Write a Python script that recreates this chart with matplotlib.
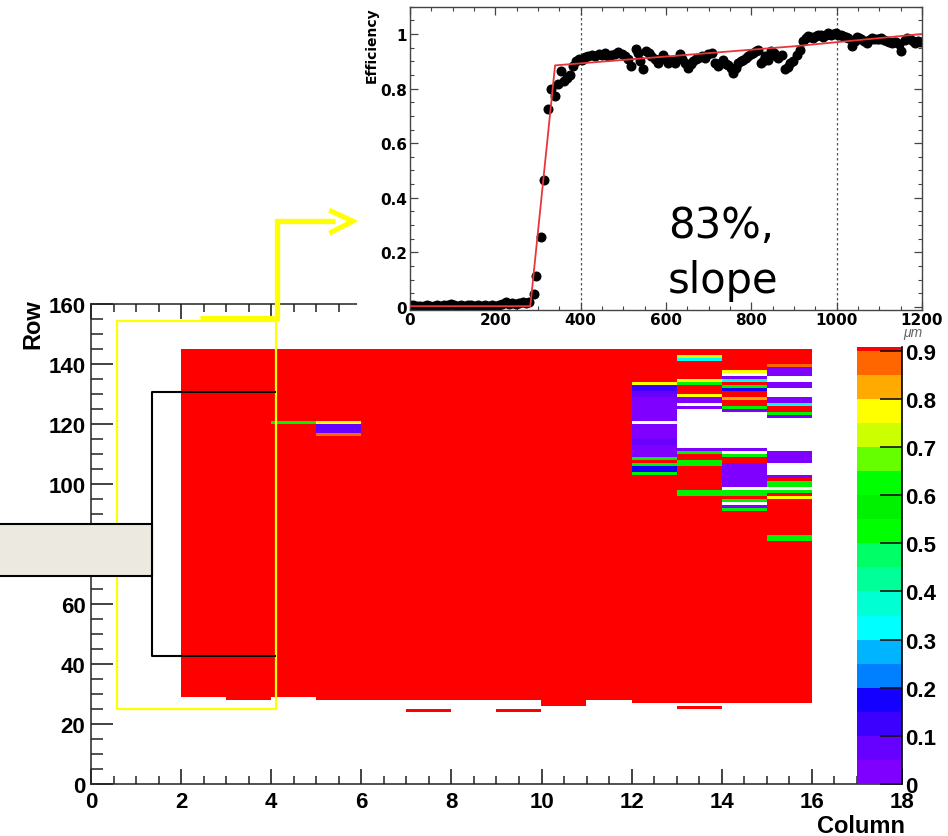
import numpy as np
import matplotlib
matplotlib.use('Agg')
import matplotlib.pyplot as plt
from matplotlib.colors import ListedColormap, BoundaryNorm
from matplotlib.patches import Rectangle
from matplotlib.ticker import MultipleLocator, FuncFormatter

plt.rcParams['font.family'] = ['Liberation Sans', 'DejaVu Sans']
plt.rcParams['font.weight'] = 'bold'
plt.rcParams['axes.labelweight'] = 'bold'

# ---- efficiency map (column x row), values are hit efficiency ----
N_COLS = 18
N_ROWS = 160
RED = 0.95
V0, V1, V2, BLUE = 0.03, 0.08, 0.12, 0.17
CYAN, GREEN, LIME, YELLOW = 0.32, 0.55, 0.72, 0.77
ORANGE, DKORANGE = 0.83, 0.87
EMPTY = np.nan

# columns that are fully efficient, with the first filled row of each
red_cols = [2, 3, 4, 5, 6, 7, 8, 9, 10, 11, 12, 13, 14, 15]
red_bottom = [29, 28, 29, 28, 28, 28, 28, 28, 26, 28, 27, 27, 27, 27]
red_top = 145

# (first row, last row, value) strips per column
strips_c4 = [(120, 120, GREEN)]
strips_c5 = [(120, 120, YELLOW), (117, 119, V1), (116, 116, DKORANGE)]
strips_c7 = [(24, 24, RED)]
strips_c9 = [(24, 24, RED)]
strips_c12 = [(133, 133, YELLOW), (131, 132, V2), (129, 130, V1), (121, 128, V0),
              (120, 120, EMPTY), (115, 119, V0), (113, 114, V1), (109, 112, V0),
              (108, 108, GREEN), (107, 107, RED), (106, 106, GREEN),
              (104, 105, BLUE), (103, 103, GREEN)]
strips_c13 = [(142, 142, LIME), (141, 141, CYAN), (134, 134, YELLOW), (133, 133, GREEN),
              (129, 129, YELLOW), (127, 128, V0), (126, 126, EMPTY), (125, 125, V0),
              (112, 124, EMPTY), (111, 111, V0), (110, 110, GREEN), (106, 107, GREEN),
              (96, 97, GREEN), (25, 25, RED)]
strips_c14 = [(137, 137, YELLOW), (136, 136, EMPTY), (135, 135, V0), (134, 134, CYAN),
              (132, 132, GREEN), (131, 131, BLUE), (128, 128, ORANGE), (125, 125, GREEN),
              (124, 124, V0), (112, 123, EMPTY), (111, 111, V0), (110, 110, EMPTY),
              (109, 109, GREEN), (99, 106, V0), (98, 98, EMPTY), (96, 97, GREEN),
              (94, 94, GREEN), (93, 93, EMPTY), (92, 92, V0), (91, 91, GREEN)]
strips_c15 = [(139, 139, DKORANGE), (136, 138, V0), (134, 135, EMPTY), (132, 133, V0),
              (129, 131, EMPTY), (127, 128, V0), (126, 126, CYAN), (123, 123, GREEN),
              (122, 122, V0), (111, 121, EMPTY), (107, 110, V0), (103, 106, EMPTY),
              (102, 102, V0), (99, 100, GREEN), (98, 98, EMPTY), (97, 97, GREEN),
              (95, 95, YELLOW), (81, 82, GREEN)]
col_strips = {4: strips_c4, 5: strips_c5, 7: strips_c7, 9: strips_c9,
              12: strips_c12, 13: strips_c13, 14: strips_c14, 15: strips_c15}

# ROOT-like palette, one colour per 0.05 step, red above 0.9
palette = ['#7f00ff', '#6600ff', '#3c00ff', '#1400ff', '#0080ff', '#00b4ff',
           '#00ffff', '#00ffd2', '#00ff99', '#00ff66', '#00ff00', '#00f200',
           '#00ff00', '#66ff00', '#ccff00', '#ffff00', '#ffaa00', '#ff6600', '#ff0000']
levels = list(np.round(np.arange(0, 0.901, 0.05), 2)) + [1.0]
cbar_top = 0.908
cbar_ticks = [0, 0.1, 0.2, 0.3, 0.4, 0.5, 0.6, 0.7, 0.8, 0.9]
cbar_labels = ['0', '0.1', '0.2', '0.3', '0.4', '0.5', '0.6', '0.7', '0.8', '0.9']

# ---- efficiency vs. position scan ----
eff_x = [0, 8, 16, 24, 32, 40, 48, 56, 64, 72, 80, 88, 96, 104, 112, 120, 128, 136,
         144, 152, 160, 168, 176, 184, 192, 200, 208, 216, 224, 232, 240, 248, 256, 264,
         272, 280,
         290, 296, 308, 315, 324, 330, 340, 347, 355, 360, 368, 376, 382, 388, 396,
         402, 410, 418, 426, 434, 442, 449, 457, 465, 472, 480, 488, 496, 504, 511, 519,
         529, 534, 539, 547, 554, 560, 566, 574, 582, 588, 594, 600, 605, 613, 621, 627,
         633, 638, 644, 652, 658, 664, 670, 676, 684, 691, 699, 707, 715, 723, 728, 734,
         740, 746, 752, 758, 763, 769, 775, 781, 787, 793, 799, 805, 810, 816,
         823, 828, 832, 840, 846, 852, 858, 863, 871, 880, 885, 890, 898, 906, 914, 922,
         928, 933, 939, 945, 951, 957, 963, 969, 975, 980, 986, 992, 998, 1004, 1010, 1016,
         1022, 1027, 1037, 1042, 1047, 1052, 1058, 1064, 1070, 1076, 1082, 1088, 1094,
         1100, 1105, 1111, 1117, 1123, 1129, 1135, 1140, 1146, 1151, 1160, 1166, 1172,
         1178, 1184, 1190, 1195]
eff_y = [0.008, 0.006, 0.004, 0.005, 0.003, 0.006, 0.004, 0.005, 0.006, 0.004, 0.007, 0.006,
         0.012, 0.008, 0.005, 0.006, 0.004, 0.006, 0.007, 0.005, 0.006, 0.004, 0.006, 0.005,
         0.007, 0.004, 0.006, 0.012, 0.018, 0.010, 0.014, 0.012, 0.016, 0.018, 0.015, 0.020,
         0.048, 0.113, 0.255, 0.465, 0.724, 0.797, 0.772, 0.815, 0.864, 0.826, 0.840, 0.851,
         0.882, 0.900, 0.910,
         0.906, 0.915, 0.920, 0.924, 0.918, 0.926, 0.924, 0.930, 0.920, 0.924, 0.928, 0.933,
         0.925, 0.919, 0.910, 0.882, 0.945, 0.930, 0.900, 0.870, 0.937, 0.930, 0.919, 0.910,
         0.894, 0.910, 0.924, 0.910, 0.894, 0.900, 0.894, 0.910, 0.928, 0.910, 0.894, 0.876,
         0.890, 0.900, 0.910, 0.912, 0.920, 0.912, 0.925, 0.930, 0.894, 0.882, 0.895, 0.906,
         0.890, 0.888, 0.875, 0.858, 0.875, 0.894, 0.900, 0.906, 0.912, 0.919, 0.925, 0.930,
         0.937, 0.943,
         0.894, 0.900, 0.919, 0.906, 0.937, 0.930, 0.918, 0.912, 0.924, 0.870, 0.880, 0.894,
         0.900, 0.924, 0.943, 0.973,
         0.985, 0.994, 0.990, 0.985, 0.994, 0.997, 0.995, 0.990, 0.998, 1.003, 0.998, 1.000,
         1.002, 0.997, 0.995, 0.994, 0.990, 0.985, 0.955, 0.975, 0.990, 0.985, 0.982, 0.975,
         0.967, 0.978, 0.985, 0.980, 0.982, 0.980, 0.985, 0.978, 0.973, 0.970, 0.967, 0.970,
         0.970, 0.965, 0.937, 0.979, 0.985, 0.982, 0.975, 0.967, 0.975, 0.970]
eff_err = 0.012
fit_x = [0, 282, 340, 900, 1200]
fit_y = [0.003, 0.003, 0.885, 0.955, 1.0]
edge_lines = [400, 1000]

assert len(eff_x) == len(eff_y)

# ---- figure ----
W, H = 948, 837
fig = plt.figure(figsize=(W / 100, H / 100), dpi=100)

# main efficiency map
ax = fig.add_axes([91 / W, 1 - 785 / H, 811 / W, 480 / H])
eff_map = np.full((N_ROWS, N_COLS), np.nan)
for c, lo in zip(red_cols, red_bottom):
    eff_map[lo:red_top, c] = RED
for c, strips in col_strips.items():
    for lo, hi, v in strips:
        eff_map[lo:hi + 1, c] = v

cmap = ListedColormap(palette)
cmap.set_bad((1, 1, 1, 0))
norm = BoundaryNorm(levels, cmap.N)
im = ax.imshow(np.ma.masked_invalid(eff_map), origin='lower', extent=(0, N_COLS, 0, N_ROWS),
               aspect='auto', interpolation='nearest', cmap=cmap, norm=norm)

ax.set_xlim(0, N_COLS)
ax.set_ylim(0, N_ROWS)
ax.xaxis.set_major_locator(MultipleLocator(2))
ax.xaxis.set_minor_locator(MultipleLocator(0.5))
ax.yaxis.set_major_locator(MultipleLocator(20))
ax.yaxis.set_minor_locator(MultipleLocator(5))
ax.tick_params(axis='x', which='major', direction='in', length=11, width=1.2, top=True,
               labelsize=16, pad=5, color='#222')
ax.tick_params(axis='x', which='minor', direction='in', length=5.5, width=1.1, top=True,
               color='#222')
ax.tick_params(axis='y', which='major', direction='in', length=16, width=1.2, right=False,
               labelsize=16, pad=4, color='#222')
ax.tick_params(axis='y', which='minor', direction='in', length=8.5, width=1.1, right=False,
               color='#222')
ax.spines['right'].set_visible(False)
for s in ('left', 'bottom', 'top'):
    ax.spines[s].set_linewidth(1.1)
    ax.spines[s].set_color('#222')

ax.set_xlabel('Column', fontsize=17, loc='right')
ax.xaxis.set_label_coords(1.004, -0.063)
ax.set_ylabel('Row', fontsize=17, loc='top')
ax.yaxis.set_label_coords(-0.058, 1.012)

# region markers drawn on top of the map
ax.add_patch(Rectangle((0.577, 25.0), 3.528, 129.3, fill=False, edgecolor='#ffff00',
                       lw=1.6, zorder=5, clip_on=False))
ax.plot([2.418, 4.138, 4.138, 5.414], [155.5, 155.5, 187.6, 187.6], color='#ffff00',
        lw=3.8, solid_joinstyle='miter', solid_capstyle='butt', clip_on=False, zorder=5)
ax.plot([5.34, 5.813, 5.34], [190.9, 187.6, 184.0], color='#ffff00', lw=3.6,
        solid_joinstyle='miter', clip_on=False, zorder=5)
ax.plot([4.083, 1.353, 1.353, 4.083], [130.7, 130.7, 42.7, 42.7], color='black', lw=1.5,
        zorder=6, clip_on=False)
ax.add_patch(Rectangle((-2.3, 69.3), 3.653, 17.4, facecolor='#ece9e0', edgecolor='black',
                       lw=1.5, zorder=7, clip_on=False))

# palette
cax = fig.add_axes([857 / W, 1 - 785 / H, 45 / W, 437 / H])
cb = fig.colorbar(im, cax=cax, boundaries=levels[:-1] + [cbar_top], spacing='proportional')
cb.outline.set_visible(False)
cb.minorticks_off()
cb.set_ticks(cbar_ticks)
cb.set_ticklabels(cbar_labels)
cax.set_ylim(0, cbar_top)
cax.tick_params(direction='in', length=16, width=1.2, labelsize=16, pad=2, color='#111')
cax.spines['right'].set_visible(True)
cax.spines['right'].set_linewidth(1.2)

# white backing for the scan plot
fig.patches.append(Rectangle((357 / W, 1 - 338 / H), 591 / W, 338 / H,
                             transform=fig.transFigure, facecolor='white',
                             edgecolor='none', zorder=2))

# efficiency scan
ins = fig.add_axes([410 / W, 1 - 310.7 / H, 512 / W, 303 / H], zorder=3)
ins.set_xlim(0, 1200)
ins.set_ylim(-0.01, 1.1)
for xv in edge_lines:
    ins.axvline(xv, color='#555555', lw=0.9, ls=(0, (2, 2)), zorder=1)
ins.errorbar(eff_x, eff_y, yerr=eff_err, fmt='o', color='black', ms=6.2,
             elinewidth=0.8, ecolor='#444444', capsize=0, zorder=2)
ins.plot(fit_x, fit_y, color='#e8363a', lw=1.3, zorder=3)
ins.xaxis.set_major_locator(MultipleLocator(200))
ins.xaxis.set_minor_locator(MultipleLocator(50))
ins.yaxis.set_major_locator(MultipleLocator(0.2))
ins.yaxis.set_minor_locator(MultipleLocator(0.05))
ins.yaxis.set_major_formatter(FuncFormatter(lambda v, p: '%g' % round(v, 2)))
ins.tick_params(which='major', direction='in', length=6, width=0.9, top=True, right=True,
                labelsize=11, pad=2, color='#444')
ins.tick_params(which='minor', direction='in', length=3, width=0.8, top=True, right=True,
                color='#444')
for lab in ins.get_xticklabels() + ins.get_yticklabels():
    lab.set_family('DejaVu Sans')
for s in ins.spines.values():
    s.set_linewidth(1.0)
    s.set_color('#444')
ins.set_ylabel('Efficiency', fontsize=10, loc='top', family='DejaVu Sans')
ins.yaxis.set_label_coords(-0.062, 1.0)
ins.set_xlabel('μm', fontsize=10, loc='right', style='italic', fontweight='normal',
               color='#666666')
ins.xaxis.set_label_coords(1.0, -0.052)

fig.text(668 / W, 1 - 205 / H, '83%,\nslope', fontsize=30, fontweight='normal',
         family='DejaVu Sans', ha='left', va='top', linespacing=1.4, zorder=5)

fig.savefig('out.png', dpi=100)
